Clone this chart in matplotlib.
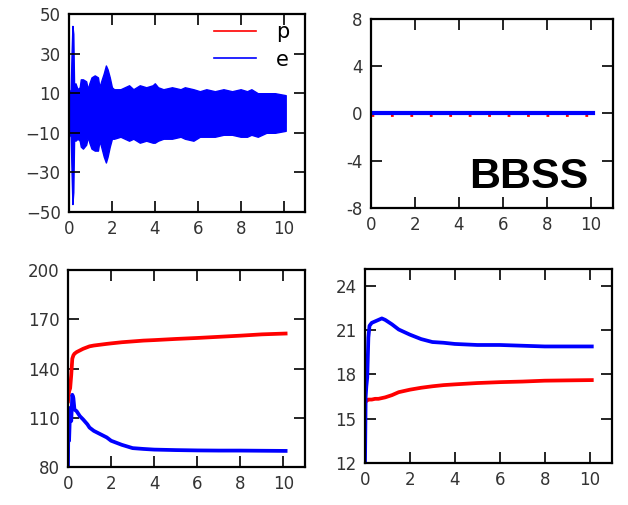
import matplotlib
matplotlib.use("Agg")
import matplotlib.pyplot as plt
import numpy as np

# --- data -------------------------------------------------------------
# top-left: envelope of the oscillating error signal e (upper / lower bound)
osc_t = [0.0, 0.08, 0.12, 0.16, 0.20, 0.24, 0.30, 0.40, 0.50, 0.55, 0.65, 0.80,
         0.88, 0.95, 1.05, 1.20, 1.35, 1.42, 1.50, 1.62, 1.72, 1.80, 1.90,
         2.00, 2.10, 2.40, 2.80, 3.00, 3.30, 3.60, 3.90, 4.00, 4.15, 4.40,
         4.80, 5.20, 5.40, 5.80, 6.10, 6.40, 6.80, 7.20, 7.60, 8.00, 8.30,
         8.50, 8.80, 9.20, 9.60, 10.1]
osc_upper = [10, 12, 30, 44, 40, 12, 15, 12, 13, 17, 17, 16, 12, 15, 18, 19, 18,
             13, 16, 20, 24, 22, 18, 13, 12, 12, 14, 12, 14, 13, 14, 15, 13, 12,
             13, 12, 13, 12, 11, 12, 11, 12, 11, 12, 11, 12, 10, 10, 10, 9]
osc_lower = [-10, -12, -30, -46, -40, -12, -14, -13, -14, -17, -18, -16, -12,
             -15, -18, -19, -19, -14, -17, -22, -25, -22, -17, -13, -13, -12,
             -14, -13, -15, -14, -15, -15, -14, -13, -13, -12, -13, -14, -12,
             -12, -12, -11, -11, -12, -12, -11, -12, -10, -10, -9]
p_osc_upper = [4, 5, 8, 8, 6, 5, 5, 5, 5, 6, 6, 5, 5, 5, 6, 6, 6, 5, 5, 6, 7, 6,
               6, 5, 5, 5, 5, 5, 5, 5, 5, 5, 5, 5, 5, 5, 5, 5, 5, 5, 5, 5, 5,
               5, 5, 5, 5, 5, 5, 5]

# top-right: both errors stay at zero
flat_t = [0.0, 10.1]
p_flat = [-0.12, -0.12]
e_flat = [0.0, 0.0]

# bottom-left
bl_t = [0.0, 0.02, 0.05, 0.10, 0.15, 0.20, 0.25, 0.30, 0.40, 0.55, 0.70, 0.90,
        1.00, 1.20, 1.50, 1.80, 2.00, 2.50, 3.00, 3.50, 4.00, 5.00, 6.00,
        7.00, 8.00, 9.00, 10.1]
bl_p = [120, 123, 126, 128, 136, 146, 148, 149, 150, 151, 152, 153, 153.5, 154,
        154.5, 155, 155.3, 156, 156.5, 157, 157.3, 158, 158.6, 159.3, 160,
        160.8, 161.3]
bl_e = [80, 114, 96, 116, 108, 124, 122, 115, 114, 111, 109, 106, 104, 102,
        100, 98, 96, 93.5, 91.5, 91, 90.6, 90.3, 90.1, 90, 90, 89.9, 89.8]

# bottom-right
br_t = [0.0, 0.03, 0.06, 0.10, 0.15, 0.20, 0.30, 0.45, 0.60, 0.75, 0.90, 1.20,
        1.50, 2.00, 2.50, 3.00, 3.50, 4.00, 5.00, 6.00, 7.00, 8.00, 9.00, 10.1]
br_p = [16.1, 16.2, 16.2, 16.25, 16.3, 16.3, 16.3, 16.35, 16.35, 16.4, 16.45,
        16.6, 16.8, 16.97, 17.1, 17.2, 17.28, 17.33, 17.42, 17.48, 17.52,
        17.58, 17.6, 17.62]
br_e = [12, 16.5, 17.2, 17.8, 20.5, 21.3, 21.5, 21.6, 21.7, 21.8, 21.7, 21.4,
        21.05, 20.7, 20.4, 20.2, 20.15, 20.07, 20.0, 20.0, 19.95, 19.9, 19.9,
        19.9]

# --- drawing ------------------------------------------------------------
W, H = 628, 505
fig = plt.figure(figsize=(W / 100, H / 100), dpi=100)
plt.rcParams['font.family'] = ['DejaVu Sans']

def px_axes(l, r, t, b):
    return fig.add_axes([l / W, 1 - b / H, (r - l) / W, (b - t) / H])

ax_tl = px_axes(69, 305, 14, 212)
ax_tr = px_axes(371, 613, 19, 208)
ax_bl = px_axes(68, 305, 270, 467)
ax_br = px_axes(365, 612, 269, 463)

RED = '#ff0000'
BLUE = '#0000ff'
LW = 2.7

# top-left
ax_tl.fill_between(osc_t, [-v for v in p_osc_upper], p_osc_upper, color=RED, lw=0)
ax_tl.plot([], [], color=RED, lw=1.2, label='p')
ax_tl.fill_between(osc_t, osc_lower, osc_upper, color=BLUE, lw=1.0, edgecolor=BLUE)
ax_tl.plot([], [], color=BLUE, lw=1.2, label='e')
ax_tl.set_ylim(-50, 50)
ax_tl.set_yticks([-50, -30, -10, 10, 30, 50])
leg = ax_tl.legend(loc='upper right', frameon=False, fontsize=15,
                   handlelength=2.0, handletextpad=1.0, labelspacing=0.35,
                   borderaxespad=0.0, bbox_to_anchor=(0.97, 1.0))

# top-right
ax_tr.plot(flat_t, p_flat, color=RED, lw=2.0, ls=(0, (1, 6)))
ax_tr.plot(flat_t, e_flat, color=BLUE, lw=LW + 0.3)
ax_tr.set_ylim(-8, 8)
ax_tr.set_yticks([-8, -4, 0, 4, 8])
ax_tr.set_yticklabels(['-8', '-4', '0', '4', '8'])
ax_tr.text(0.9, 0.105, 'BBSS', transform=ax_tr.transAxes, ha='right',
           va='baseline', fontsize=31, fontweight='bold',
           family='Liberation Sans', color='black')

# bottom-left
ax_bl.plot(bl_t, bl_p, color=RED, lw=LW)
ax_bl.plot(bl_t, bl_e, color=BLUE, lw=LW)
ax_bl.set_ylim(80, 200)
ax_bl.set_yticks([80, 110, 140, 170, 200])

# bottom-right
ax_br.plot(br_t, br_p, color=RED, lw=LW)
ax_br.plot(br_t, br_e, color=BLUE, lw=LW)
ax_br.set_ylim(12, 25.15)
ax_br.set_yticks([12, 15, 18, 21, 24])

for ax in (ax_tl, ax_tr, ax_bl, ax_br):
    ax.set_xlim(0, 11)
    ax.set_xticks([0, 2, 4, 6, 8, 10])
    ax.tick_params(direction='in', length=8, width=1.2, top=True, right=True,
                   labelsize=12, labelcolor='#333333', pad=6)
    for s in ax.spines.values():
        s.set_linewidth(1.6)

fig.savefig('out.png', dpi=100)
